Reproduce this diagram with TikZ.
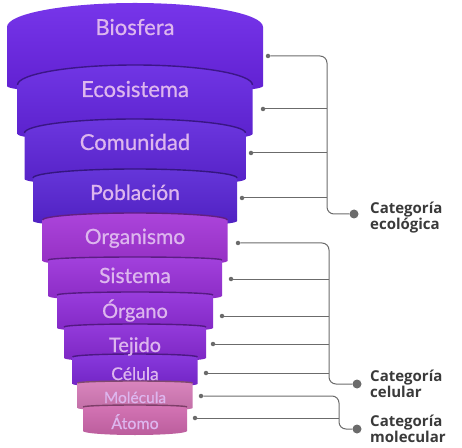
\documentclass[tikz,border=0pt]{standalone}
\usepackage{fontspec}
\setmainfont{Lato}
\newfontfamily\bandfont[FakeBold=0.6]{Lato}
\newfontfamily\catfont{Open Sans}
\definecolor{cBio}{HTML}{6B24E8}
\definecolor{cEco}{HTML}{6424E2}
\definecolor{cCom}{HTML}{5F25DC}
\definecolor{cPob}{HTML}{5824D6}
\definecolor{cOrg}{HTML}{A434D8}
\definecolor{cSis}{HTML}{9A30DA}
\definecolor{cOrn}{HTML}{902CDA}
\definecolor{cTej}{HTML}{8A2AD8}
\definecolor{cCel}{HTML}{7E28DA}
\definecolor{cMol}{HTML}{D67AB8}
\definecolor{cAto}{HTML}{D068AE}
\definecolor{cTxt}{HTML}{DDB6EE}
\definecolor{cLine}{HTML}{6B6B6B}
\definecolor{cCat}{HTML}{3A3A3A}
\begin{document}
\begin{tikzpicture}[x=1pt,y=1pt]
	\tikzset{band/.style = {top color=#1!92!white, bottom color=#1!90!black}}
	\tikzset{rim/.style = {draw=#1!60!black, line width=1.4pt}}
	\tikzset{lbl/.style = {anchor=base, text=cTxt, inner sep=0pt}}
	\tikzset{dot/.style = {shape=circle, fill=cLine, minimum size=4.5pt, inner sep=0pt}}
	\tikzset{bigdot/.style = {shape=circle, fill=cLine, minimum size=9pt, inner sep=0pt}}
	\tikzset{conn/.style = {draw=cLine, line width=1pt, rounded corners=7pt}}
	\tikzset{cat/.style = {anchor=west, align=left, inner sep=0pt, text=cCat, font=\catfont\bfseries\fontsize{15}{14}\selectfont}}
	\useasboundingbox (0,0) rectangle (462,447);
	% Draw funnel bands, top to bottom
	\shade[band=cBio] (7,420) arc[start angle=180, end angle=0, x radius=128, y radius=24] -- (263,361) arc[start angle=0, end angle=-180, x radius=128, y radius=8] -- cycle;
	\shade[band=cEco] (17.5,362) arc[start angle=180, end angle=0, x radius=117.5, y radius=20] -- (252.5,313) arc[start angle=0, end angle=-180, x radius=117.5, y radius=8] -- cycle;
	\draw[rim=cEco] (17.5,362) arc[start angle=180, end angle=0, x radius=117.5, y radius=20];
	\shade[band=cCom] (24.5,314) arc[start angle=180, end angle=0, x radius=110.5, y radius=14] -- (245.5,268) arc[start angle=0, end angle=-180, x radius=110.5, y radius=7] -- cycle;
	\draw[rim=cCom] (24.5,314) arc[start angle=180, end angle=0, x radius=110.5, y radius=14];
	\shade[band=cPob] (33,269) arc[start angle=180, end angle=0, x radius=102, y radius=9] -- (237,226) arc[start angle=0, end angle=-180, x radius=102, y radius=6] -- cycle;
	\draw[rim=cPob] (33,269) arc[start angle=180, end angle=0, x radius=102, y radius=9];
	\shade[band=cOrg] (42.5,227) arc[start angle=180, end angle=0, x radius=92.5, y radius=7] -- (227.5,186) arc[start angle=0, end angle=-180, x radius=92.5, y radius=5] -- cycle;
	\draw[rim=cOrg] (42.5,227) arc[start angle=180, end angle=0, x radius=92.5, y radius=7];
	\shade[band=cSis] (48,187) arc[start angle=180, end angle=0, x radius=87, y radius=3] -- (222,151) arc[start angle=0, end angle=-180, x radius=87, y radius=5] -- cycle;
	\draw[rim=cSis] (48,187) arc[start angle=180, end angle=0, x radius=87, y radius=3];
	\shade[band=cOrn] (57,152) arc[start angle=180, end angle=0, x radius=78, y radius=3] -- (213,119) arc[start angle=0, end angle=-180, x radius=78, y radius=4] -- cycle;
	\draw[rim=cOrn] (57,152) arc[start angle=180, end angle=0, x radius=78, y radius=3];
	\shade[band=cTej] (64,120) arc[start angle=180, end angle=0, x radius=71, y radius=3] -- (206,89) arc[start angle=0, end angle=-180, x radius=71, y radius=4] -- cycle;
	\draw[rim=cTej] (64,120) arc[start angle=180, end angle=0, x radius=71, y radius=3];
	\shade[band=cCel] (72.5,90) arc[start angle=180, end angle=0, x radius=62.5, y radius=3] -- (197.5,63) arc[start angle=0, end angle=-180, x radius=62.5, y radius=3] -- cycle;
	\draw[rim=cCel] (72.5,90) arc[start angle=180, end angle=0, x radius=62.5, y radius=3];
	\shade[band=cMol] (77.5,64) arc[start angle=180, end angle=0, x radius=57.5, y radius=2] -- (192.5,39) arc[start angle=0, end angle=-180, x radius=57.5, y radius=3] -- cycle;
	\draw[rim=cMol] (77.5,64) arc[start angle=180, end angle=0, x radius=57.5, y radius=2];
	\shade[band=cAto] (83,40) arc[start angle=180, end angle=0, x radius=52, y radius=2] -- (187,16) arc[start angle=0, end angle=-180, x radius=52, y radius=4] -- cycle;
	\draw[rim=cAto] (83,40) arc[start angle=180, end angle=0, x radius=52, y radius=2];
	% Band labels
	\node[lbl, font=\bandfont\fontsize{22}{22}\selectfont] (tBio) at (135,412) {Biosfera};
	\node[lbl, font=\bandfont\fontsize{22}{22}\selectfont] (tEco) at (135,350) {Ecosistema};
	\node[lbl, font=\bandfont\fontsize{22}{22}\selectfont] (tCom) at (135,297) {Comunidad};
	\node[lbl, font=\bandfont\fontsize{21}{21}\selectfont] (tPob) at (135,247) {Población};
	\node[lbl, font=\bandfont\fontsize{21}{21}\selectfont] (tOrg) at (135,203) {Organismo};
	\node[lbl, font=\bandfont\fontsize{21}{21}\selectfont] (tSis) at (135,164) {Sistema};
	\node[lbl, font=\bandfont\fontsize{20}{20}\selectfont] (tOrn) at (135,129) {Órgano};
	\node[lbl, font=\bandfont\fontsize{20}{20}\selectfont] (tTej) at (135,95) {Tejido};
	\node[lbl, font=\bandfont\fontsize{17.5}{17.5}\selectfont] (tCel) at (135,67) {Célula};
	\node[lbl, font=\bandfont\fontsize{15.5}{15.5}\selectfont] (tMol) at (135,44) {Molécula};
	\node[lbl, font=\bandfont\fontsize{16}{16}\selectfont] (tAto) at (135,18) {Átomo};
	% Dots on the bands
	\node[dot] (dBio) at (268,391) {};
	\node[dot] (dEco) at (263,338) {};
	\node[dot] (dCom) at (251,294) {};
	\node[dot] (dPob) at (242,249) {};
	\node[dot] (dOrg) at (238,204) {};
	\node[dot] (dSis) at (231,168) {};
	\node[dot] (dOrn) at (222,131) {};
	\node[dot] (dTej) at (213,103) {};
	\node[dot] (dCel) at (206,74) {};
	\node[dot] (dMol) at (201,51) {};
	\node[dot] (dAto) at (195,29) {};
	% Categories
	\node[bigdot] (pEco) at (354,233) {};
	\node[bigdot] (pCel) at (357,63) {};
	\node[bigdot] (pMol) at (357,18) {};
	\coordinate (kEco) at (327,0);
	\coordinate (kCel) at (329,0);
	\coordinate (kMol) at (339,0);
	\node[cat] (lEco) at (370,229) {Categoría\\ecológica};
	\node[cat] (lCel) at (370,63) {Categoría\\celular};
	\node[cat] (lMol) at (370,18) {Categoría\\molecular};
	% Brackets
	\draw[conn] (dBio) -| (kEco |- pEco) -- (pEco);
	\draw[conn] (dEco) -- (dEco -| kEco);
	\draw[conn] (dCom) -- (dCom -| kEco);
	\draw[conn] (dPob) -- (dPob -| kEco);
	\draw[conn] (dOrg) -| (kCel |- pCel) -- (pCel);
	\draw[conn] (dSis) -- (dSis -| kCel);
	\draw[conn] (dOrn) -- (dOrn -| kCel);
	\draw[conn] (dTej) -- (dTej -| kCel);
	\draw[conn] (dCel) -- (dCel -| kCel);
	\draw[conn] (dMol) -| (kMol |- pMol) -- (pMol);
	\draw[conn] (dAto) -- (dAto -| kMol);
\end{tikzpicture}
\end{document}
